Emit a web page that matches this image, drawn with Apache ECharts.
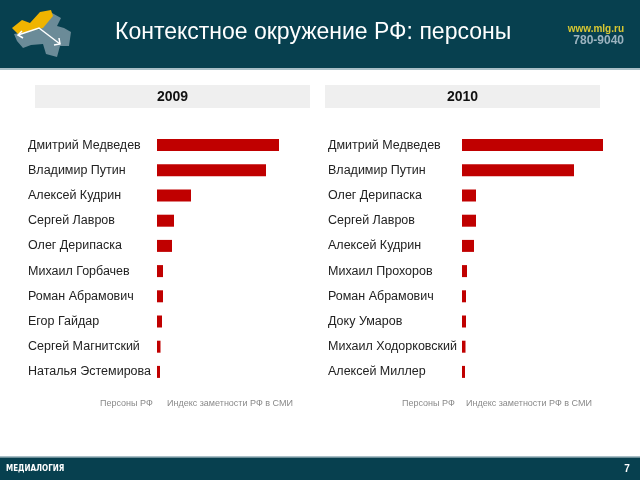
<!DOCTYPE html>
<html><head><meta charset="utf-8">
<script src="https://cdn.jsdelivr.net/npm/echarts@6/dist/echarts.min.js"></script>
<style>html,body{margin:0;padding:0;background:#fff}#c{width:640px;height:480px}</style>
</head><body><div id="c"></div>
<script>
const title = 'Контекстное окружение РФ: персоны';
const years = ['2009', '2010'];
const names2009 = ['Дмитрий Медведев','Владимир Путин','Алексей Кудрин','Сергей Лавров','Олег Дерипаска','Михаил Горбачев','Роман Абрамович','Егор Гайдар','Сергей Магнитский','Наталья Эстемирова'];
const values2009 = [122, 109, 34, 17, 15, 6, 6, 5, 3.5, 3];
const names2010 = ['Дмитрий Медведев','Владимир Путин','Олег Дерипаска','Сергей Лавров','Алексей Кудрин','Михаил Прохоров','Роман Абрамович','Доку Умаров','Михаил Ходорковский','Алексей Миллер'];
const values2010 = [141, 112, 14, 14, 12, 5, 4, 4, 3.5, 3];
const legendTexts = ['Персоны РФ', 'Индекс заметности РФ в СМИ'];

const chart = echarts.init(document.getElementById('c'), null, {renderer: 'canvas'});
const teal = '#07404f';
const barColor = '#c00000';
const font = 'Liberation Sans, Arial, sans-serif';

function grid(left) { return {left: left, top: 132.5, width: 150, height: 252, containLabel: false}; }
function yAxis(idx, names, margin) {
  return {type: 'category', gridIndex: idx, inverse: true, data: names,
    axisLine: {show: false}, axisTick: {show: false},
    axisLabel: {align: 'left', margin: margin, color: '#222', fontSize: 12.5, fontFamily: font, padding: [4, 0, 0, 0]}};
}
function xAxis(idx) {
  return {type: 'value', gridIndex: idx, min: 0, max: 150, show: false};
}
function series(idx, vals) {
  return {type: 'bar', xAxisIndex: idx, yAxisIndex: idx, data: vals, barWidth: 12,
    itemStyle: {color: barColor}, silent: true};
}

const graphics = [
  {type: 'rect', shape: {x: 0, y: 0, width: 640, height: 68}, style: {fill: teal}},
  {type: 'rect', shape: {x: 0, y: 68, width: 640, height: 2}, style: {fill: '#a9bfc7'}},
  {type: 'polygon', shape: {points: [[14,34],[40,29],[52,13],[61,18],[57,26],[64,28],[71,32],[69,46],[60,46],[57,57],[46,54],[43,44],[31,45],[23,48],[17,41]]}, style: {fill: '#6b8b98'}},
  {type: 'polygon', shape: {points: [[12,28],[22,20],[30,23],[40,12],[51,10],[53,16],[43,28],[18,34]]}, style: {fill: '#f0b400'}},
  {type: 'polyline', shape: {points: [[18,35],[39,28],[60,44]]}, style: {stroke: '#ffffff', lineWidth: 1.5, fill: null}},
  {type: 'polyline', shape: {points: [[22,31],[18,35],[23,38]]}, style: {stroke: '#ffffff', lineWidth: 1.5, fill: null}},
  {type: 'polyline', shape: {points: [[54,45],[60,44],[59,38]]}, style: {stroke: '#ffffff', lineWidth: 1.5, fill: null}},
  {type: 'text', left: 115, top: 21, style: {text: title, fill: '#ffffff', fontSize: 23, fontFamily: font}},
  {type: 'text', right: 16, top: 24, style: {text: 'www.mlg.ru', fill: '#d9c832', fontSize: 10, fontWeight: 'bold', fontFamily: font}},
  {type: 'text', right: 16, top: 35, style: {text: '780-9040', fill: '#9cb3bf', fontSize: 12, fontWeight: 'bold', fontFamily: font}},
  {type: 'rect', shape: {x: 35, y: 85, width: 275, height: 23}, style: {fill: '#efefef'}},
  {type: 'rect', shape: {x: 325, y: 85, width: 275, height: 23}, style: {fill: '#efefef'}},
  {type: 'text', x: 172.5, y: 97, style: {text: years[0], fill: '#111', fontSize: 14, fontWeight: 'bold', fontFamily: font, align: 'center', verticalAlign: 'middle'}},
  {type: 'text', x: 462.5, y: 97, style: {text: years[1], fill: '#111', fontSize: 14, fontWeight: 'bold', fontFamily: font, align: 'center', verticalAlign: 'middle'}},
  {type: 'text', x: 100, y: 403.5, style: {text: legendTexts[0], fill: '#8a8a8a', fontSize: 9, fontFamily: font, verticalAlign: 'middle'}},
  {type: 'text', x: 167, y: 403.5, style: {text: legendTexts[1], fill: '#8a8a8a', fontSize: 9, fontFamily: font, verticalAlign: 'middle'}},
  {type: 'text', x: 402, y: 403.5, style: {text: legendTexts[0], fill: '#8a8a8a', fontSize: 9, fontFamily: font, verticalAlign: 'middle'}},
  {type: 'text', x: 466, y: 403.5, style: {text: legendTexts[1], fill: '#8a8a8a', fontSize: 9, fontFamily: font, verticalAlign: 'middle'}},
  {type: 'rect', shape: {x: 0, y: 456, width: 640, height: 1.5}, style: {fill: '#a9bfc7'}},
  {type: 'rect', shape: {x: 0, y: 457.5, width: 640, height: 22.5}, style: {fill: teal}},
  {type: 'text', x: 6, y: 469, style: {text: 'МЕДИАЛОГИЯ', fill: '#ffffff', fontSize: 8, fontWeight: 'bold', fontFamily: 'Liberation Sans Narrow, DejaVu Sans Condensed, sans-serif', verticalAlign: 'middle'}},
  {type: 'text', x: 627, y: 469, style: {text: '7', fill: '#ffffff', fontSize: 10, fontWeight: 'bold', fontFamily: font, align: 'center', verticalAlign: 'middle'}}
];

chart.setOption({
  animation: false,
  backgroundColor: '#ffffff',
  grid: [grid(157), grid(462)],
  xAxis: [xAxis(0), xAxis(1)],
  yAxis: [yAxis(0, names2009, 129), yAxis(1, names2010, 134)],
  series: [series(0, values2009), series(1, values2010)],
  graphic: graphics
});
</script></body></html>
